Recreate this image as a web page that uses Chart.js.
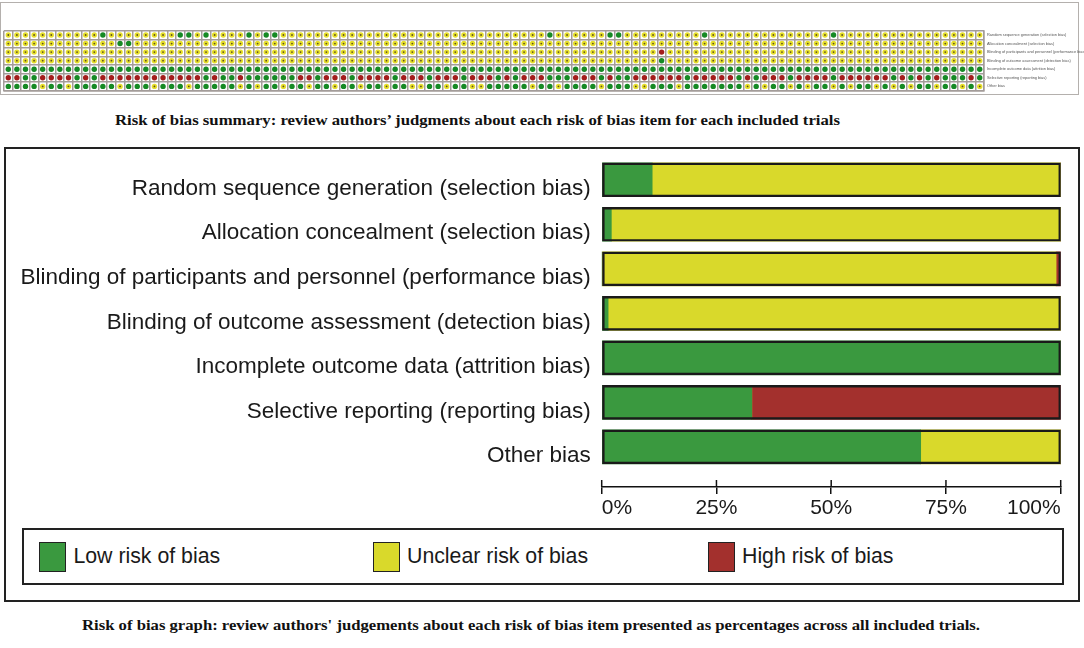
<!DOCTYPE html>
<html>
<head>
<meta charset="utf-8">
<script src="https://cdn.jsdelivr.net/npm/chart.js@4.4.1/dist/chart.umd.min.js"></script>
<style>
  body { margin: 0; background: #fff; width: 1084px; height: 648px; overflow: hidden; position: relative;
         font-family: "Liberation Sans", Arial, sans-serif; }
  #summaryFrame { position: absolute; left: 0; top: 1.5px; width: 1077px; height: 91px; border: 1.5px solid #b4b0ad; }
  #summaryChart { position: absolute; left: 0; top: 0; }
  .caption { position: absolute; display: inline-block; white-space: nowrap; line-height: 1;
             font-family: "Liberation Serif", "Times New Roman", serif; font-weight: bold; color: #111;
             transform-origin: left center; }
  #caption1 { left: 115px; top: 112px; font-size: 15.5px; }
  #caption2 { left: 81.5px; top: 618px; font-size: 15px; }
  #graphBox { position: absolute; left: 4px; top: 147px; width: 1071.5px; height: 450.7px; border: 2px solid #222; }
  #barChart { position: absolute; left: 0; top: 133.25px; }
  #legendBox { position: absolute; left: 22px; top: 528px; width: 1038px; height: 53.4px; border: 2px solid #222; }
  .legItem { position: absolute; top: 0; height: 53.4px; display: flex; align-items: center; font-size: 21.3px; color: #1a1a1a; }
  .legSwatch { width: 25px; height: 28px; border: 1.5px solid #222; margin-right: 7px; box-sizing: content-box; }
</style>
</head>
<body>
<div id="summaryFrame"></div>
<canvas id="summaryChart" width="1084" height="96"></canvas>
<span class="caption" id="caption1">Risk of bias summary: review authors’ judgments about each risk of bias item for each included trials</span>
<div id="graphBox"></div>
<canvas id="barChart" width="1084" height="395"></canvas>
<div id="legendBox"></div>
<span class="caption" id="caption2">Risk of bias graph: review authors' judgements about each risk of bias item presented as percentages across all included trials.</span>

<script>
// ---- data ----
const domains = [
  'Random sequence generation (selection bias)',
  'Allocation concealment (selection bias)',
  'Blinding of participants and personnel (performance bias)',
  'Blinding of outcome assessment (detection bias)',
  'Incomplete outcome data (attrition bias)',
  'Selective reporting (reporting bias)',
  'Other bias'
];
const judgements = ['Low risk of bias', 'Unclear risk of bias', 'High risk of bias'];

// risk of bias graph, % of trials per domain
const lowPct     = [11.0, 2.1, 0.0, 1.4, 100, 32.7, 69.5];
const unclearPct = [89.0, 97.9, 99.0, 98.6, 0, 0, 30.5];
const highPct    = [0, 0, 1.0, 0, 0, 67.3, 0];

// risk of bias summary, one letter per trial (G = low, Y = unclear, R = high), 114 trials
const rowRandom = ['YYYYYYYYYY', 'YGYYYYYYYY', 'GGYGYYYYGY', 'GGYYYYYYYY', 'YYYYYYYYYY', 'YYYYYYYYYY',
  'YYYGYYYYYY', 'GGYYYYYYYY', 'YGYYYYYYYY', 'YYYYYYGYYY', 'YYYYYYYYYY', 'YYYY'].join('');
const rowAllocation = ['YYYYYYYYYY', 'YYYGGYYYYY', 'YYYYYYYYYY', 'YYYYYYYYYY', 'YYYYYYYYYY', 'YYYYYYYYYY',
  'YYYYYYYYYY', 'YYYYYYYYYY', 'YYYYYYYYYY', 'YYYYYYYYYY', 'YYYYYYYYYY', 'YYYY'].join('');
const rowBlindPart = ['YYYYYYYYYY', 'YYYYYYYYYY', 'YYYYYYYYYY', 'YYYYYYYYYY', 'YYYYYYYYYY', 'YYYYYYYYYY',
  'YYYYYYYYYY', 'YYYYYYRYYY', 'YYYYYYYYYY', 'YYYYYYYYYY', 'YYYYYYYYYY', 'YYYY'].join('');
const rowBlindOut = ['YYYYYYYYYY', 'YYYYYYYYYY', 'YYYYYYYYYY', 'YYYYYYYYYY', 'YYYYYYYYYY', 'YYYYYYYYYY',
  'YYYYYYYYYY', 'YYYYYYGYYY', 'YYYYYYYYYY', 'YYYYYYYYYY', 'YYYYYYYYYY', 'YYYY'].join('');
const rowAttrition = ['GGGGGGGGGG', 'GGGGGGGGGG', 'GGGGGGGGGG', 'GGGGGGGGGG', 'GGGGGGGGGG', 'GGGGGGGGGG',
  'GGGGGGGGGG', 'GGGGGGGGGG', 'GGGGGGGGGG', 'GGGGGGGGGG', 'GGGGGGGGGG', 'GGGG'].join('');
const rowSelective = ['RRGGRRRRGR', 'GRRRRRRRRR', 'RRRGRGGRGG', 'GGGGRRGRRR', 'GRRRRGRRRG', 'RRRGRRRGRG',
  'RRRGGGRRRG', 'RGGRRRRRRG', 'RRRRRGRGRR', 'RGRRRRGRRR', 'RRRGRGRGRG', 'GGRG'].join('');
const rowOther = ['GGGGYGGYGG', 'GGGYGGGYGG', 'GYGGGGGYGY', 'GGYGGYGGYG', 'GYGGYGGYYG', 'GYGGYYGGGG',
  'GYGGYGGGGY', 'GGGYYGGGYG', 'GGGGGGYGYG', 'GYGYGGYGYG', 'GYGYGYGGYG', 'GYGY'].join('');

// ---- colours ----
const barGreen = '#3a993f';
const barYellow = '#d9d92b';
const barRed = '#a3302d';
const dotGreen = '#168a24';
const dotYellow = '#e6df2c';
const dotRed = '#a41c1c';
const gridGrey = '#a39c99';

Chart.defaults.font.family = '"Liberation Sans", Arial, sans-serif';

// ---- summary grid ----
const summaryRows = [rowRandom, rowAllocation, rowBlindPart, rowBlindOut, rowAttrition, rowSelective, rowOther];
const trialIds = summaryRows[0].split('').map((_, i) => 'T' + (i + 1));

function pointsFor(code) {
  const pts = [];
  summaryRows.forEach((row, r) => {
    row.split('').forEach((c, i) => {
      if (c === code) pts.push({ x: trialIds[i], y: domains[r] });
    });
  });
  return pts;
}

new Chart(document.getElementById('summaryChart'), {
  type: 'scatter',
  data: {
    datasets: [
      { data: pointsFor('Y'), pointRadius: 0.9, backgroundColor: '#5e5020' },
      { data: pointsFor('G'), pointRadius: 2.7, backgroundColor: dotGreen },
      { data: pointsFor('Y'), pointRadius: 2.7, backgroundColor: dotYellow },
      { data: pointsFor('R'), pointRadius: 2.7, backgroundColor: dotRed }
    ]
  },
  options: {
    responsive: false,
    animation: false,
    events: [],
    plugins: { legend: { display: false }, tooltip: { enabled: false } },
    layout: { padding: { left: 4, top: 30.7, right: 0, bottom: 5.3 } },
    elements: { point: { borderWidth: 0, hoverRadius: 0 } },
    scales: {
      x: {
        type: 'category', labels: trialIds, offset: true,
        grid: { offset: true, color: gridGrey, lineWidth: 1.5, drawTicks: false },
        ticks: { display: false },
        border: { color: gridGrey, width: 1.5 },
        afterFit: s => { s.height = 0; }
      },
      y: {
        type: 'category', labels: domains, position: 'right', offset: true,
        grid: { offset: true, color: gridGrey, lineWidth: 1.5, drawTicks: false },
        ticks: { font: { size: 3.9 }, color: '#555', padding: 3 },
        border: { color: gridGrey, width: 1.5 },
        afterFit: s => { s.width = 100; }
      }
    }
  }
});

// ---- bar graph ----
const tickMarksAbove = {
  id: 'tickMarksAbove',
  afterDraw(chart) {
    const xs = chart.scales.x;
    const ctx = chart.ctx;
    const bottom = chart.chartArea.bottom;
    ctx.save();
    ctx.strokeStyle = '#111';
    ctx.lineWidth = 1.5;
    xs.ticks.forEach(t => {
      const px = xs.getPixelForValue(t.value);
      ctx.beginPath();
      ctx.moveTo(px, bottom - 7);
      ctx.lineTo(px, bottom);
      ctx.stroke();
    });
    ctx.restore();
  }
};

const barChart = new Chart(document.getElementById('barChart'), {
  type: 'bar',
  data: {
    datasets: [
      { label: 'outline', data: domains.map((_, i) => ({ x: 100, y: i })), stack: 'outline',
        backgroundColor: 'rgba(0,0,0,0)', borderColor: '#1a1a1a', borderWidth: 1.8 },
      { label: judgements[0], data: lowPct.map((v, i) => ({ x: v, y: i })), stack: 'risk', backgroundColor: barGreen },
      { label: judgements[1], data: unclearPct.map((v, i) => ({ x: v, y: i })), stack: 'risk', backgroundColor: barYellow },
      { label: judgements[2], data: highPct.map((v, i) => ({ x: v, y: i })), stack: 'risk', backgroundColor: barRed }
    ]
  },
  options: {
    indexAxis: 'y',
    responsive: false,
    animation: false,
    events: [],
    datasets: { bar: { grouped: false, barThickness: 34, borderSkipped: false } },
    plugins: { legend: { display: false }, tooltip: { enabled: false } },
    // the y labels add 13.5 + 11 px above the plot, so the plot top lands at 157.75
    layout: { padding: { top: 0, right: 23.3, left: 0, bottom: 0 } },
    scales: {
      x: {
        type: 'linear', min: 0, max: 100, stacked: true,
        ticks: { stepSize: 25, callback: v => v + '%', font: { size: 21 }, color: '#1a1a1a', padding: 2, align: 'inner' },
        grid: { drawOnChartArea: false, tickLength: 7, color: '#111', lineWidth: 1.5 },
        border: { color: '#111', width: 1.5 },
        afterFit: s => { s.height = 41; }
      },
      y: {
        type: 'linear', reverse: true, min: -0.5, max: 6.9, stacked: true, offset: false,
        afterBuildTicks: s => { s.ticks = domains.map((_, i) => ({ value: i })); },
        ticks: { callback: v => domains[v], font: { size: 22.5 }, color: '#1a1a1a', padding: 11, labelOffset: 9, autoSkip: false },
        grid: { display: false, drawTicks: false, offset: false },
        border: { display: false },
        afterFit: s => { s.width = 601.7; }
      }
    }
  },
  plugins: [tickMarksAbove]
});

// ---- legend, built from the bar datasets ----
const legendBox = document.getElementById('legendBox');
const legendLefts = [15.4, 349, 684];
barChart.data.datasets.slice(1).forEach((ds, i) => {
  const item = document.createElement('div');
  item.className = 'legItem';
  item.style.left = legendLefts[i] + 'px';
  const sw = document.createElement('div');
  sw.className = 'legSwatch';
  sw.style.background = ds.backgroundColor;
  const txt = document.createElement('span');
  txt.textContent = ds.label;
  item.appendChild(sw);
  item.appendChild(txt);
  legendBox.appendChild(item);
});

// ---- captions squeezed to the reference widths ----
function fitCaption(id, width) {
  const el = document.getElementById(id);
  const w = el.getBoundingClientRect().width;
  el.style.transform = 'scaleX(' + (width / w) + ')';
}
fitCaption('caption1', 725);
fitCaption('caption2', 898);
</script>
</body>
</html>
